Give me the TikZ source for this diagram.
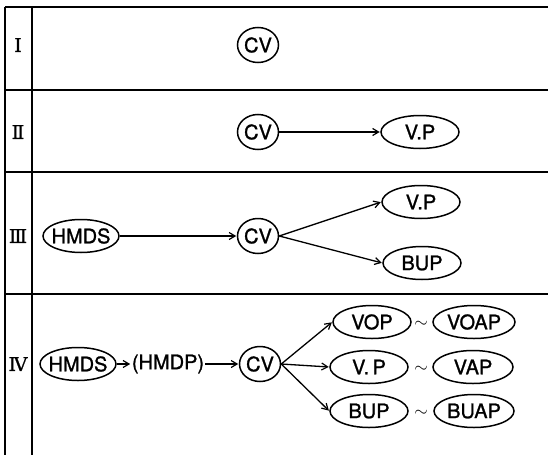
\documentclass[tikz,border=0pt]{standalone}
\usepackage{fontspec}
\setmainfont{TeX Gyre Heros}
\newfontfamily\labelfont{TeX Gyre Heros}[FakeBold=1.2]
\newfontfamily\numfont{DejaVu Serif}[FakeBold=0.8]
\usetikzlibrary{shapes.geometric,arrows.meta}

% label text that does not stretch its outline
\newcommand\fit[1]{\makebox[0pt]{#1}}

\tikzset{
  frameline/.style={line width=1.9pt},
  cvcircle/.style={draw, ellipse, line width=1.5pt, minimum width=41pt, minimum height=35pt, inner sep=0pt, font=\labelfont\fontsize{20}{20}\selectfont},
  oval/.style={draw, ellipse, line width=1.5pt, minimum width=78pt, minimum height=33pt, inner sep=0pt, font=\labelfont\fontsize{20}{20}\selectfont},
  plain/.style={inner sep=1pt, font=\labelfont\fontsize{20}{20}\selectfont},
  tilde/.style={inner sep=0pt, font=\fontsize{19}{19}\selectfont},
  rowlabel/.style={inner sep=0pt, font=\numfont\fontsize{19}{19}\selectfont},
  arr/.style={line width=1.3pt, -{Straight Barb[length=6pt,width=7pt,line width=1.2pt]}, shorten >=0.5pt}
}

\begin{document}
\begin{tikzpicture}[x=1pt, y=-1pt]
  \useasboundingbox (0,0) rectangle (548,455);

  % table frame
  \draw[frameline] (5,7) -- (5,455);
  \draw[frameline] (32,7) -- (32,455);
  \foreach \yy in {7,90,172,294}
    \draw[frameline] (5,\yy) -- (548,\yy);

  % row labels
  \node[rowlabel] (r1) at (18,45)  {Ⅰ};
  \node[rowlabel] (r2) at (18,132) {Ⅱ};
  \node[rowlabel] (r3) at (18,236) {Ⅲ};
  \node[rowlabel] (r4) at (18,364) {Ⅳ};

  % row I
  \node[cvcircle] (cv1) at (258,45) {\fit{CV}};

  % row II
  \node[cvcircle] (cv2) at (258,132) {\fit{CV}};
  \node[oval]     (vp2) at (420,132) {\fit{V.P}};
  \draw[arr] (cv2.east) -- (vp2.west);

  % row III
  \node[oval, minimum width=76pt] (hm3) at (81,236) {\fit{HMDS}};
  \node[cvcircle] (cv3) at (258,236) {\fit{CV}};
  \node[oval]     (vp3) at (421,202) {\fit{V.P}};
  \node[oval]     (bu3) at (422,263) {\fit{BUP}};
  \draw[arr] (hm3.east) -- (cv3.west);
  \draw[arr] (cv3.east) -- (vp3.west);
  \draw[arr] (cv3.east) -- (bu3.west);

  % row IV
  \node[oval, minimum width=76pt] (hm4) at (78,364) {\fit{HMDS}};
  \node[plain]    (hp4) at (168,364) {(HMDP)};
  \node[cvcircle] (cv4) at (260,364) {\fit{CV}};
  \node[oval]     (vo4) at (372,322) {\fit{VOP}};
  \node[oval]     (vp4) at (369,367) {\fit{V.\,P}};
  \node[oval]     (bu4) at (369,411) {\fit{BUP}};
  \node[tilde]    (t1)  at (421,324) {$\sim$};
  \node[tilde]    (t2)  at (421,369) {$\sim$};
  \node[tilde]    (t3)  at (421,413) {$\sim$};
  \node[oval, minimum width=82pt] (voa) at (474,322) {\fit{VOAP}};
  \node[oval, minimum width=80pt] (vap) at (473,367) {\fit{VAP}};
  \node[oval, minimum width=80pt] (bua) at (474,411) {\fit{BUAP}};
  \draw[arr] (hm4.east) -- (hp4.west);
  \draw[arr] (hp4.east) -- (cv4.west);
  \draw[arr] (cv4.east) -- (vo4.west);
  \draw[arr] (cv4.east) -- (vp4.west);
  \draw[arr] (cv4.east) -- (bu4.west);
\end{tikzpicture}
\end{document}
